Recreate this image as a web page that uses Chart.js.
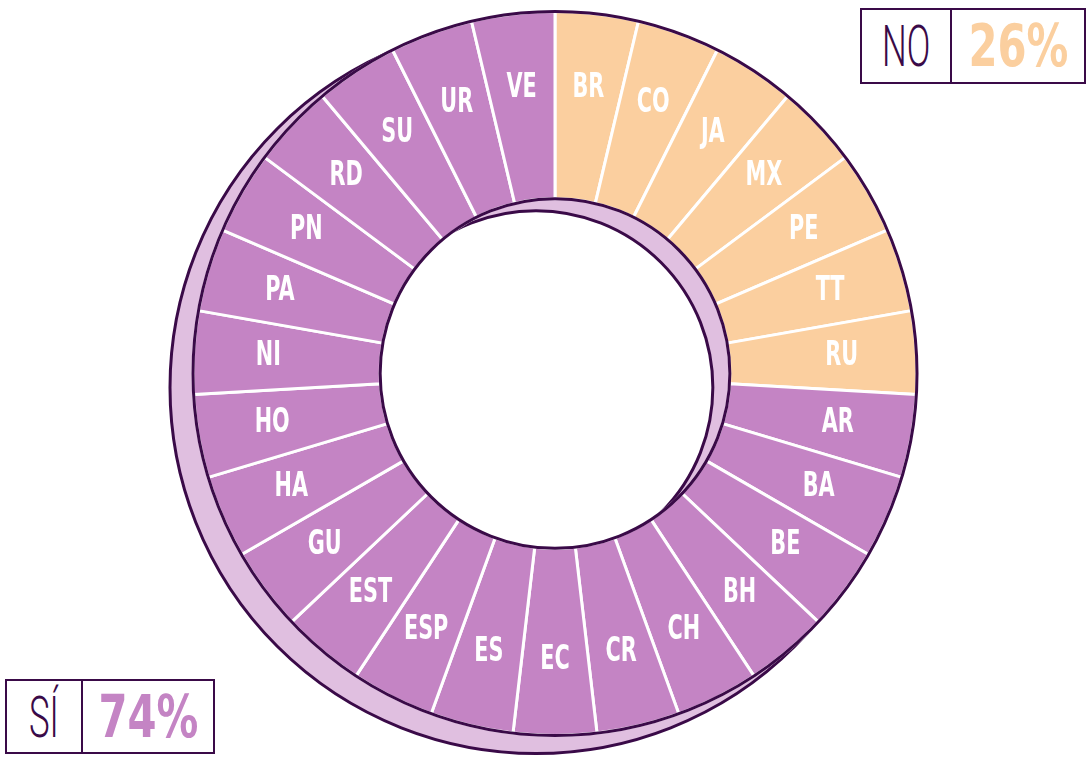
<!DOCTYPE html>
<html>
<head>
<meta charset="utf-8">
<script src="https://cdn.jsdelivr.net/npm/chart.js@4"></script>
<style>
  body { margin: 0; background: #fff; }
  #wrap { position: relative; width: 1089px; height: 758px; }
  #chart { position: absolute; left: 0; top: 0; }
  .box { position: absolute; border: 2px solid #3a0a48; display: flex; box-sizing: border-box; background: #fff; }
  .box .k { border-right: 2px solid #3a0a48; display: flex; align-items: center; justify-content: center; }
  .box .v { flex: 1; display: flex; align-items: center; justify-content: center; }
  .k span { font-family: Roboto, sans-serif; font-weight: 300; font-size: 58px; line-height: 1; color: #3a0a48; display: inline-block; transform: scaleX(0.6); }
  .v span { font-family: "Liberation Sans Narrow", "DejaVu Sans Condensed", sans-serif; font-weight: bold; font-size: 58px; line-height: 1; display: inline-block; transform: scaleX(0.8); }
</style>
</head>
<body>
<div id="wrap">
  <canvas id="chart" width="1089" height="758"></canvas>
  <div class="box" id="boxNo" style="left:860px; top:8px; width:226px; height:76px;">
    <div class="k" style="width:88px;"><span></span></div>
    <div class="v"><span></span></div>
  </div>
  <div class="box" id="boxSi" style="left:5px; top:679px; width:210px; height:75px;">
    <div class="k" style="width:74px;"><span></span></div>
    <div class="v"><span></span></div>
  </div>
</div>
<script>
// countries, clockwise from 12 o'clock
const countries = ['BR', 'CO', 'JA', 'MX', 'PE', 'TT', 'RU',
  'AR', 'BA', 'BE', 'BH', 'CH', 'CR', 'EC', 'ES', 'ESP', 'EST', 'GU', 'HA', 'HO',
  'NI', 'PA', 'PN', 'RD', 'SU', 'UR', 'VE'];
const answers = ['NO', 'NO', 'NO', 'NO', 'NO', 'NO', 'NO',
  'SÍ', 'SÍ', 'SÍ', 'SÍ', 'SÍ', 'SÍ', 'SÍ', 'SÍ', 'SÍ', 'SÍ', 'SÍ', 'SÍ', 'SÍ',
  'SÍ', 'SÍ', 'SÍ', 'SÍ', 'SÍ', 'SÍ', 'SÍ'];
const weights = [1, 1, 1, 1, 1, 1, 1,
  1, 1, 1, 1, 1, 1, 1, 1, 1, 1, 1, 1, 1,
  1, 1, 1, 1, 1, 1, 1];
const summaryLabels = ['NO', 'SÍ'];
const summaryPct = [26, 74];

const DARK = '#3a0a48';
const answerColor = { 'NO': '#fbcf9f', 'SÍ': '#c484c4' };
const SHADOW = '#e0bfe0';

// fill the two summary boxes
[['boxNo', 0], ['boxSi', 1]].forEach(([id, i]) => {
  const box = document.getElementById(id);
  box.querySelector('.k span').textContent = summaryLabels[i];
  const v = box.querySelector('.v span');
  v.textContent = summaryPct[i] + '%';
  v.style.color = answerColor[summaryLabels[i]];
});

// shadow ring behind, dark outlines and country labels on top
const ringDecor = {
  id: 'ringDecor',
  beforeDatasetsDraw(chart) {
    const a = chart.getDatasetMeta(0).data[0];
    const ctx = chart.ctx;
    const sx = a.x - 19, sy = a.y + 14;
    const ro = a.outerRadius + 4, ri = a.innerRadius + 2;
    ctx.save();
    ctx.beginPath();
    ctx.arc(sx, sy, ro, 0, Math.PI * 2);
    ctx.arc(sx, sy, ri, 0, Math.PI * 2, true);
    ctx.fillStyle = SHADOW;
    ctx.fill();
    ctx.lineWidth = 3;
    ctx.strokeStyle = DARK;
    ctx.beginPath(); ctx.arc(sx, sy, ro, 0, Math.PI * 2); ctx.stroke();
    ctx.beginPath(); ctx.arc(sx, sy, ri, 0, Math.PI * 2); ctx.stroke();
    ctx.restore();
  },
  afterDatasetsDraw(chart) {
    const meta = chart.getDatasetMeta(0);
    const a0 = meta.data[0];
    const ctx = chart.ctx;
    ctx.save();
    ctx.lineWidth = 3;
    ctx.strokeStyle = DARK;
    ctx.beginPath(); ctx.arc(a0.x, a0.y, a0.outerRadius, 0, Math.PI * 2); ctx.stroke();
    ctx.beginPath(); ctx.arc(a0.x, a0.y, a0.innerRadius, 0, Math.PI * 2); ctx.stroke();

    ctx.fillStyle = '#fff';
    ctx.font = 'bold 33px "Liberation Sans Narrow", "DejaVu Sans Condensed", sans-serif';
    ctx.textAlign = 'center';
    ctx.textBaseline = 'middle';
    meta.data.forEach((arc, i) => {
      const mid = (arc.startAngle + arc.endAngle) / 2;
      const r = arc.innerRadius + 0.6 * (arc.outerRadius - arc.innerRadius);
      ctx.save();
      ctx.translate(arc.x + Math.cos(mid) * r, arc.y + Math.sin(mid) * r);
      ctx.scale(0.7, 1);
      ctx.fillText(countries[i], 0, 0);
      ctx.restore();
    });
    ctx.restore();
  }
};

new Chart(document.getElementById('chart'), {
  type: 'doughnut',
  data: {
    labels: countries,
    datasets: [{
      data: weights,
      backgroundColor: answers.map(a => answerColor[a]),
      borderColor: '#fff',
      borderWidth: 3,
      hoverBorderWidth: 3,
      hoverOffset: 0
    }]
  },
  options: {
    responsive: false,
    animation: false,
    cutout: '48.3%',
    rotation: 0,
    layout: { padding: { top: 10, bottom: 21, left: 21, right: 0 } },
    events: [],
    plugins: {
      legend: { display: false },
      tooltip: { enabled: false }
    }
  },
  plugins: [ringDecor]
});
</script>
</body>
</html>
